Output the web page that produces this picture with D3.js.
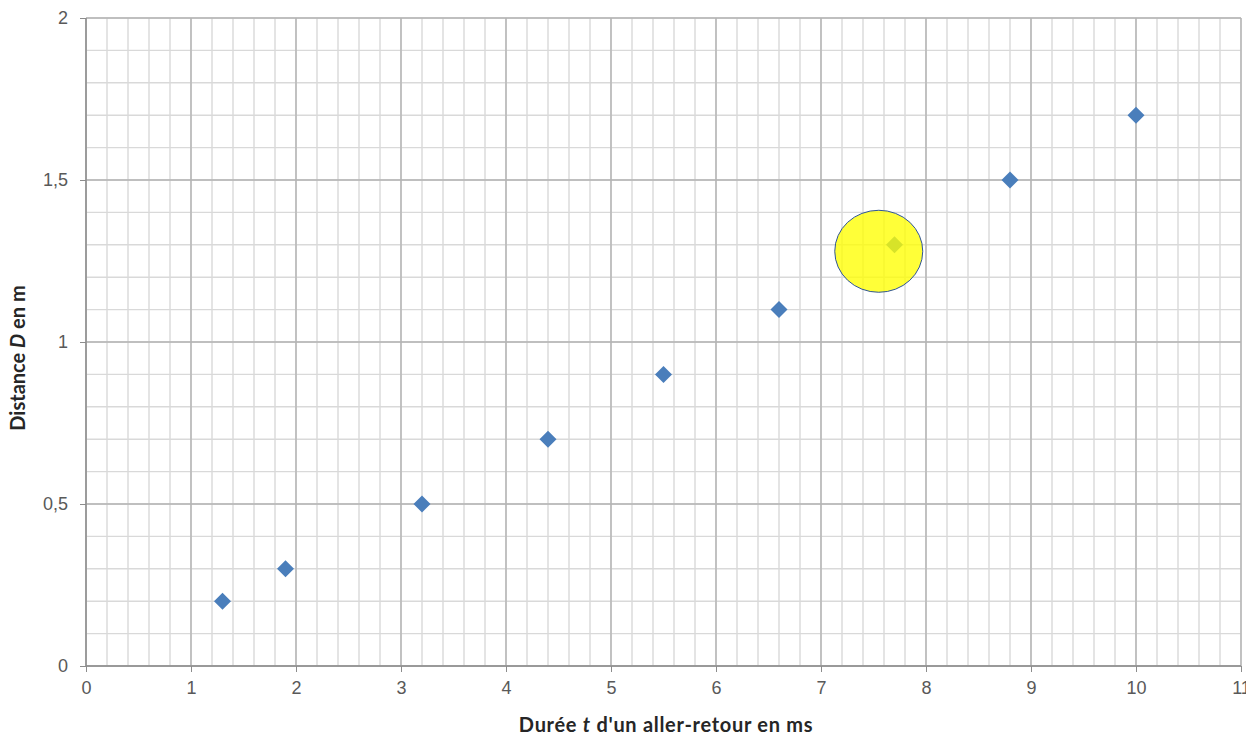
<!DOCTYPE html>
<html>
<head>
<meta charset="utf-8">
<script src="https://cdn.jsdelivr.net/npm/d3@7"></script>
<style>
  body { margin: 0; background: #fff; overflow: hidden; }
  svg { display: block; font-family: Lato, "Open Sans", sans-serif; }
  .tick text { fill: #595959; font-size: 18px; }
  .axis-title { font-weight: bold; font-size: 20px; fill: #262626; }
</style>
</head>
<body>
<svg id="chart" width="1246" height="736"></svg>
<script>
// measured values: round trip duration t (ms) vs distance D (m)
const durations = [1.3, 1.9, 3.2, 4.4, 5.5, 6.6, 7.7, 8.8, 10];
const distances = [0.2, 0.3, 0.5, 0.7, 0.9, 1.1, 1.3, 1.5, 1.7];
const xTicks = [0, 1, 2, 3, 4, 5, 6, 7, 8, 9, 10, 11];
const yTicks = [0, 0.5, 1, 1.5, 2];
// highlighted point circle (centre in data units)
const highlight = [{ t: 7.55, d: 1.28 }];

const svg = d3.select("#chart");
const margin = { left: 86, top: 18, right: 5, bottom: 70 };
const width = 1241 - margin.left;
const height = 666 - margin.top;

const x = d3.scaleLinear().domain([0, 11]).range([margin.left, margin.left + width]);
const y = d3.scaleLinear().domain([0, 2]).range([margin.top + height, margin.top]);

const g = svg.append("g");

// minor grid
const xMinor = d3.range(0, 11.0001, 0.2).map((v) => +v.toFixed(1));
const yMinor = d3.range(0, 2.0001, 0.1).map((v) => +v.toFixed(1));

g.append("g").selectAll("line")
  .data(xMinor)
  .join("line")
  .attr("x1", (d) => x(d)).attr("x2", (d) => x(d))
  .attr("y1", y(0)).attr("y2", y(2))
  .attr("stroke", "#d9d9d9").attr("stroke-width", 1.4);

g.append("g").selectAll("line")
  .data(yMinor)
  .join("line")
  .attr("y1", (d) => y(d)).attr("y2", (d) => y(d))
  .attr("x1", x(0)).attr("x2", x(11))
  .attr("stroke", "#d9d9d9").attr("stroke-width", 1.4);

// major grid
g.append("g").selectAll("line")
  .data(xTicks)
  .join("line")
  .attr("x1", (d) => x(d)).attr("x2", (d) => x(d))
  .attr("y1", y(0)).attr("y2", y(2))
  .attr("stroke", "#b3b3b3").attr("stroke-width", 1.4);

g.append("g").selectAll("line")
  .data(yTicks)
  .join("line")
  .attr("y1", (d) => y(d)).attr("y2", (d) => y(d))
  .attr("x1", x(0)).attr("x2", x(11))
  .attr("stroke", "#b3b3b3").attr("stroke-width", 1.4);

// axes
const fmt = (v) => String(v).replace(".", ",");

const xAxis = svg.append("g")
  .attr("transform", `translate(0,${y(0)})`)
  .call(d3.axisBottom(x).tickValues(xTicks).tickFormat(fmt).tickSize(6).tickPadding(9));
xAxis.select(".domain").attr("stroke", "#8c8c8c").attr("stroke-width", 1.4).attr("d", `M${x(0)},0H${x(11)}`);
xAxis.selectAll(".tick line").attr("stroke", "#8c8c8c");

const yAxis = svg.append("g")
  .attr("transform", `translate(${x(0)},0)`)
  .call(d3.axisLeft(y).tickValues(yTicks).tickFormat(fmt).tickSize(6).tickPadding(12));
yAxis.select(".domain").attr("stroke", "#8c8c8c").attr("stroke-width", 1.4).attr("d", `M0,${y(0)}V${y(2)}`);
yAxis.selectAll(".tick line").attr("stroke", "#8c8c8c");

// points
const diamond = d3.symbol().type(d3.symbolDiamond2).size(185);
svg.append("g").selectAll("path")
  .data(durations.map((t, i) => ({ t, d: distances[i] })))
  .join("path")
  .attr("d", diamond)
  .attr("transform", (p) => `translate(${x(p.t)},${y(p.d)})`)
  .attr("fill", "#4a7ebb");

// yellow highlight
svg.append("g").selectAll("ellipse")
  .data(highlight)
  .join("ellipse")
  .attr("cx", (p) => x(p.t))
  .attr("cy", (p) => y(p.d))
  .attr("rx", 44)
  .attr("ry", 41)
  .attr("fill", "rgba(255,255,0,0.78)")
  .attr("stroke", "#2f5597")
  .attr("stroke-width", 1);

// titles
const xt = svg.append("text")
  .attr("class", "axis-title")
  .attr("x", 666).attr("y", 732)
  .attr("text-anchor", "middle")
  .attr("letter-spacing", "0.7px");
xt.append("tspan").text("Durée ");
xt.append("tspan").attr("font-style", "italic").text("t");
xt.append("tspan").text(" d'un aller-retour en ms");

const yt = svg.append("text")
  .attr("class", "axis-title")
  .attr("transform", "translate(25,358) rotate(-90)")
  .attr("text-anchor", "middle");
yt.append("tspan").text("Distance ");
yt.append("tspan").attr("font-style", "italic").text("D");
yt.append("tspan").text(" en m");
</script>
</body>
</html>
